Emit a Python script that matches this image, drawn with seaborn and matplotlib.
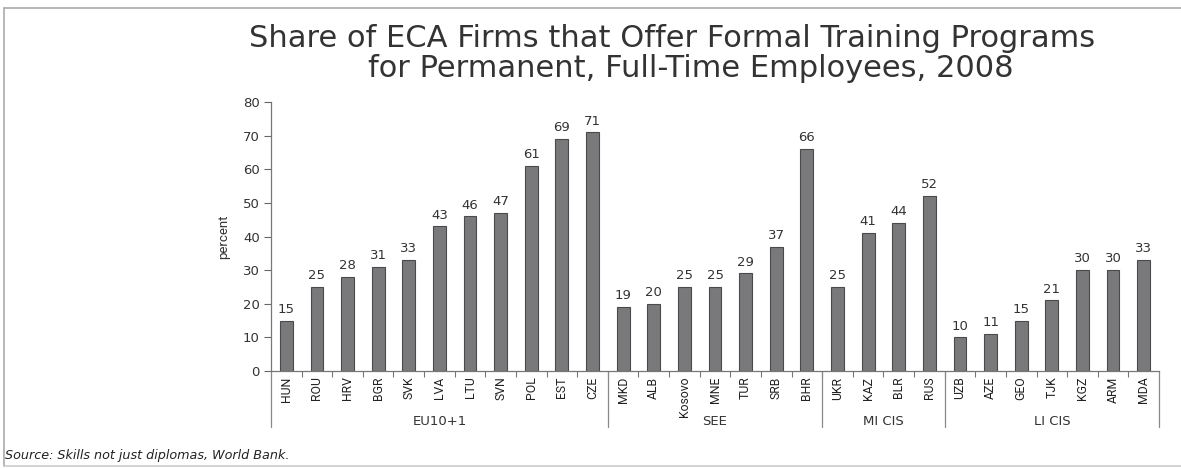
import matplotlib
matplotlib.use("Agg")
import matplotlib.pyplot as plt
import matplotlib.transforms as mtransforms
import seaborn as sns
import pandas as pd

countries = ["HUN", "ROU", "HRV", "BGR", "SVK", "LVA", "LTU", "SVN", "POL", "EST", "CZE",
             "MKD", "ALB", "Kosovo", "MNE", "TUR", "SRB", "BHR",
             "UKR", "KAZ", "BLR", "RUS",
             "UZB", "AZE", "GEO", "TJK", "KGZ", "ARM", "MDA"]
values = [15, 25, 28, 31, 33, 43, 46, 47, 61, 69, 71,
          19, 20, 25, 25, 29, 37, 66,
          25, 41, 44, 52,
          10, 11, 15, 21, 30, 30, 33]
groups = ["EU10+1", "SEE", "MI CIS", "LI CIS"]
group_sizes = [11, 7, 4, 7]
title_lines = ["Share of ECA Firms that Offer Formal Training Programs",
               "for Permanent, Full-Time Employees, 2008"]
source = "Source: Skills not just diplomas, World Bank."

sns.set_theme(style="white")
plt.rcParams["font.family"] = ["DejaVu Sans"]
narrow = ["Roboto", "DejaVu Sans"]

df = pd.DataFrame({"country": countries, "value": values})

fig = plt.figure(figsize=(11.81, 4.68), dpi=100)
ax = fig.add_axes([271/1181, 97/468, 888/1181, 269/468])

sns.barplot(data=df, x="country", y="value", order=countries, color="#79797c",
            edgecolor="#4a4a4c", linewidth=0.8, width=0.42, saturation=1, ax=ax)

ax.set_xlim(-0.5, len(countries) - 0.5)
ax.set_ylim(0, 80)
ax.set_yticks(range(0, 81, 10))
ax.tick_params(axis="y", direction="out", length=5, width=0.8, color="#666666",
               labelsize=9.5, labelcolor="#333333", pad=3, left=True)
ax.set_ylabel("percent", fontsize=9.5, color="#333333", family=narrow, labelpad=9)
ax.set_xlabel("")

ax.set_xticks(range(len(countries)))
ax.set_xticklabels(countries, rotation=90, fontsize=8.8, color="#222222", family=narrow)
ax.tick_params(axis="x", which="major", length=0, pad=4, bottom=True)
ax.set_xticks([i + 0.5 for i in range(len(countries) - 1)], minor=True)
ax.tick_params(axis="x", which="minor", direction="out", length=4, width=0.8, color="#777777", bottom=True)

for s in ["top", "right"]:
    ax.spines[s].set_visible(False)
ax.spines["left"].set_color("#777777")
ax.spines["left"].set_linewidth(0.9)
ax.spines["bottom"].set_color("#777777")
ax.spines["bottom"].set_linewidth(0.9)

for i, v in enumerate(values):
    ax.text(i, v + 1.4, f"{v}", ha="center", va="bottom", fontsize=9.5, color="#333333")

trans = mtransforms.blended_transform_factory(ax.transData, ax.transAxes)
bounds = [-0.5]
for n in group_sizes:
    bounds.append(bounds[-1] + n)
for b in bounds:
    ax.plot([b, b], [0, -0.21], transform=trans, clip_on=False, color="#888888", lw=0.9)
for g, a, b in zip(groups, bounds[:-1], bounds[1:]):
    ax.text((a + b) / 2, -0.188, g, transform=trans, ha="center", va="center",
            fontsize=9.5, color="#333333")

fig.text(672/1181, 1 - 47/468, title_lines[0], ha="center", va="baseline",
         fontsize=22, color="#333333")
fig.text(691/1181, 1 - 77/468, title_lines[1], ha="center", va="baseline",
         fontsize=22, color="#333333")

fig.text(5/1181, 1 - 455/468, source, ha="left", va="center",
         fontsize=9.2, style="italic", color="#222222")

# frame lines
fig.add_artist(plt.Line2D([4/1181, 1], [1 - 8/468, 1 - 8/468], transform=fig.transFigure, color="#aaaaaa", lw=1.2))
fig.add_artist(plt.Line2D([4/1181, 4/1181], [1 - 8/468, 1 - 466/468], transform=fig.transFigure, color="#aaaaaa", lw=1.2))
fig.add_artist(plt.Line2D([4/1181, 1], [1 - 466/468, 1 - 466/468], transform=fig.transFigure, color="#cccccc", lw=1.2))

fig.savefig("out.png", dpi=100)
